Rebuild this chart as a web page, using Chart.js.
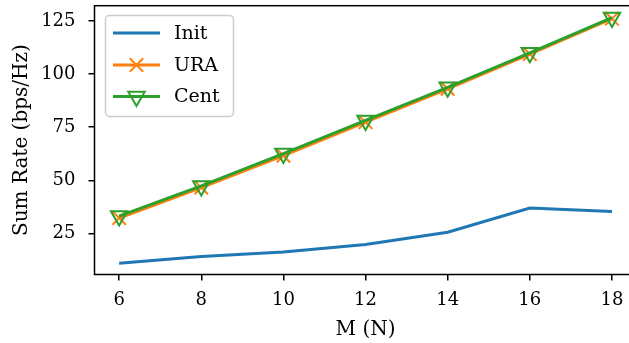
<!DOCTYPE html>
<html><head><meta charset="utf-8">
<script src="https://cdn.jsdelivr.net/npm/chart.js@4/dist/chart.umd.min.js"></script>
<style>
html,body{margin:0;padding:0;background:#fff;overflow:hidden;}
canvas{display:block;}
</style></head>
<body><canvas id="c" width="650" height="343"></canvas>
<script>
const M = [6, 8, 10, 12, 14, 16, 18];
const initRate = [11, 14.2, 16.3, 19.8, 25.6, 37, 35.3];
const uraRate = [32.3, 46.6, 61.6, 77.4, 93.1, 109.4, 126.1];
const centRate = [33.2, 47.4, 62.6, 78.2, 93.8, 110.0, 126.6];
const yTicks = [25, 50, 75, 100, 125];
const xTicks = [6, 8, 10, 12, 14, 16, 18];
const seriesNames = ['Init', 'URA', 'Cent'];

const FONT = 'DejaVu Serif';
const pts = (ys) => M.map((x, i) => ({x: x, y: ys[i]}));

const boxPlugin = {
  id: 'box',
  afterDraw(chart) {
    const a = chart.chartArea, ctx = chart.ctx;
    ctx.save();
    ctx.strokeStyle = '#000';
    ctx.lineWidth = 1.5;
    ctx.strokeRect(a.left, a.top, a.right - a.left, a.bottom - a.top);
    // legend
    const lx = 105.5, ly = 15.5, lw = 128, lh = 101, r = 4;
    ctx.beginPath();
    ctx.moveTo(lx + r, ly);
    ctx.arcTo(lx + lw, ly, lx + lw, ly + lh, r);
    ctx.arcTo(lx + lw, ly + lh, lx, ly + lh, r);
    ctx.arcTo(lx, ly + lh, lx, ly, r);
    ctx.arcTo(lx, ly, lx + lw, ly, r);
    ctx.closePath();
    ctx.fillStyle = 'rgba(255,255,255,0.8)';
    ctx.fill();
    ctx.strokeStyle = '#cccccc';
    ctx.lineWidth = 1.5;
    ctx.stroke();
    const rows = [33, 65, 96.5];
    chart.data.datasets.forEach((ds) => {
      const i = seriesNames.indexOf(ds.label);
      const y = rows[i];
      ctx.strokeStyle = ds.borderColor;
      ctx.lineWidth = ds.borderWidth;
      ctx.beginPath();
      ctx.moveTo(113, y); ctx.lineTo(160, y);
      ctx.stroke();
      if (ds.pointRadius > 0) {
        ctx.strokeStyle = ds.pointBorderColor;
        ctx.fillStyle = 'rgba(0,0,0,0)';
        ctx.lineWidth = ds.pointBorderWidth;
        Chart.helpers.drawPoint(ctx, {
          pointStyle: ds.pointStyle, rotation: ds.pointRotation || 0,
          radius: ds.pointRadius, borderWidth: ds.pointBorderWidth
        }, 136.5, y);
      }
      ctx.fillStyle = '#000';
      ctx.font = '19px "' + FONT + '"';
      ctx.textBaseline = 'middle';
      ctx.textAlign = 'left';
      ctx.fillText(ds.label, 174, y + 1);
    });
    ctx.restore();
  }
};

const zeroPad = (ax) => { ax.paddingTop = 0; ax.paddingBottom = 0; ax.paddingLeft = 0; ax.paddingRight = 0; };

new Chart(document.getElementById('c'), {
  type: 'line',
  data: {
    datasets: [
      {label: seriesNames[0], data: pts(initRate), borderColor: '#1f77b4', backgroundColor: '#1f77b4',
       borderWidth: 3, pointRadius: 0, order: 3},
      {label: seriesNames[1], data: pts(uraRate), borderColor: '#ff7f0e', backgroundColor: 'rgba(0,0,0,0)',
       borderWidth: 3, pointStyle: 'crossRot', pointRadius: 9.5, pointBorderWidth: 2,
       pointBorderColor: '#ff7f0e', order: 2},
      {label: seriesNames[2], data: pts(centRate), borderColor: '#2ca02c', backgroundColor: 'rgba(0,0,0,0)',
       borderWidth: 3, pointStyle: 'triangle', pointRotation: 180, pointRadius: 9.5, pointBorderWidth: 2,
       pointBorderColor: '#2ca02c', pointBackgroundColor: 'rgba(0,0,0,0)', order: 1}
    ]
  },
  options: {
    responsive: false, animation: false, devicePixelRatio: 1,
    layout: {autoPadding: false, padding: {left: 0, right: 13.4, top: 5.7, bottom: 0}},
    plugins: {legend: {display: false}, tooltip: {enabled: false}},
    scales: {
      x: {
        type: 'linear', min: 5.4, max: 18.6,
        afterBuildTicks: (ax) => { ax.ticks = xTicks.map(v => ({value: v})); },
        afterFit: (ax) => { ax.height = 68.5; zeroPad(ax); },
        grid: {drawOnChartArea: false, drawTicks: true, tickLength: 6, color: '#000', lineWidth: 1.5},
        border: {display: false},
        ticks: {color: '#000', font: {family: FONT, size: 18}, padding: 9, maxRotation: 0},
        title: {display: true, text: 'M (N)', color: '#000', font: {family: FONT, size: 20}, padding: {top: 0, bottom: 1}}
      },
      y: {
        min: 5.7, max: 132.2,
        afterBuildTicks: (ax) => { ax.ticks = yTicks.map(v => ({value: v})); },
        afterFit: (ax) => { ax.width = 94.5; zeroPad(ax); },
        grid: {drawOnChartArea: false, drawTicks: true, tickLength: 6, color: '#000', lineWidth: 1.5},
        border: {display: false},
        ticks: {color: '#000', font: {family: FONT, size: 18, lineHeight: 0.6}, padding: 13},
        title: {display: true, text: 'Sum Rate (bps/Hz)', color: '#000', font: {family: FONT, size: 20}, padding: {top: 10, bottom: 0}}
      }
    }
  },
  plugins: [boxPlugin]
});
</script></body></html>
